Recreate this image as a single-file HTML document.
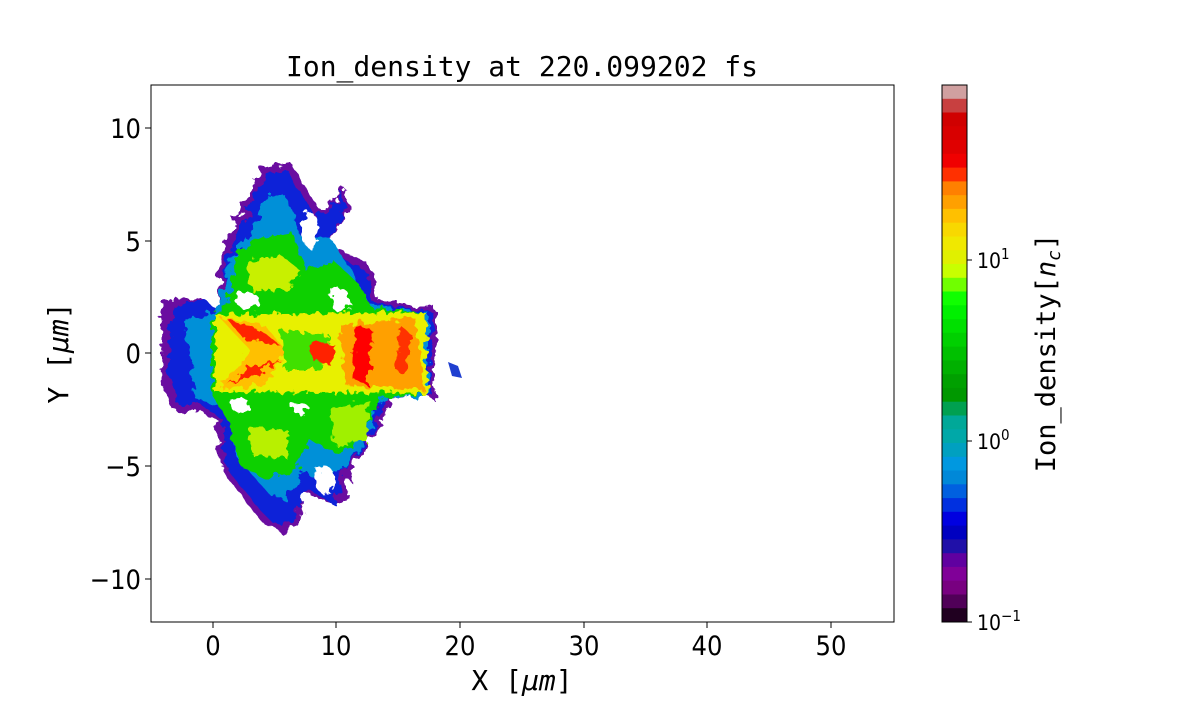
<!DOCTYPE html>
<html><head><meta charset="utf-8"><style>
body{margin:0;background:#fff;}
svg text{font-family:"DejaVu Sans Condensed","DejaVu Sans","Liberation Sans",sans-serif;font-stretch:condensed;}
svg text.mono{font-family:"DejaVu Sans Mono","Liberation Mono",monospace;font-stretch:normal;}
</style></head><body>
<svg width="1200" height="700" viewBox="0 0 1200 700" xmlns="http://www.w3.org/2000/svg">
<defs>
<filter id="rough" x="-20%" y="-20%" width="140%" height="140%">
<feTurbulence type="fractalNoise" baseFrequency="0.09" numOctaves="3" seed="3" result="n"/>
<feDisplacementMap in="SourceGraphic" in2="n" scale="16"/>
</filter>
<filter id="rough2" x="-20%" y="-20%" width="140%" height="140%">
<feTurbulence type="fractalNoise" baseFrequency="0.14" numOctaves="2" seed="7" result="n"/>
<feDisplacementMap in="SourceGraphic" in2="n" scale="12"/>
</filter>
<clipPath id="ax"><rect x="151" y="85" width="743" height="537"/></clipPath>
</defs>
<text x="522" y="76" font-size="28" text-anchor="middle" class="mono">Ion_density at 220.099202 fs</text>
<g clip-path="url(#ax)">
<g filter="url(#rough)">
<path d="M163,300 L200,297 L218,310 L222,250 L245,200 L262,168 L290,162 L300,178 L320,210 L345,188 L348,208 L330,245 L370,265 L378,300 L420,305 L437,308 L434,400 L420,395 L390,400 L372,440 L350,470 L345,505 L305,495 L298,525 L280,532 L260,520 L222,470 L218,420 L200,410 L175,412 L160,380 Z" fill="#6a10a0"/>
</g>
<g filter="url(#rough)">
<path d="M172,305 L205,300 L220,312 L228,255 L250,205 L266,175 L288,170 L298,190 L318,220 L342,192 L344,212 L326,250 L365,270 L375,305 L425,310 L433,312 L430,398 L410,393 L385,398 L368,440 L342,470 L336,505 L310,490 L292,520 L275,525 L260,510 L226,468 L222,418 L200,405 L178,405 L168,375 Z" fill="#0a20d8"/>
<path d="M185,318 L215,312 L232,262 L255,220 L270,195 L285,195 L300,235 L332,240 L360,285 L372,308 L428,312 L428,395 L380,400 L360,445 L335,478 L300,475 L285,500 L270,495 L235,455 L228,410 L195,398 Z" fill="#0090d8"/>
</g>
<g filter="url(#rough2)">
<path d="M228,300 L238,250 L262,238 L292,232 L305,270 L335,262 L360,285 L372,308 L425,312 L425,393 L380,398 L362,435 L340,455 L310,440 L295,470 L265,480 L240,465 L228,420 L212,395 L212,320 Z" fill="#10d000"/>
<path d="M245,262 L280,255 L300,270 L290,290 L252,292 Z" fill="#c8f000"/>
<path d="M248,425 L290,432 L286,458 L252,455 Z" fill="#b8f000"/>
<path d="M330,410 L370,400 L365,440 L335,445 Z" fill="#a0f000"/>
</g>
<!-- white holes -->
<g fill="#fff" filter="url(#rough2)">
<ellipse cx="247" cy="300" rx="12" ry="8"/>
<ellipse cx="340" cy="300" rx="10" ry="12"/>
<ellipse cx="310" cy="230" rx="8" ry="18"/>
<ellipse cx="240" cy="405" rx="10" ry="7"/>
<ellipse cx="300" cy="408" rx="8" ry="6"/>
<ellipse cx="325" cy="480" rx="10" ry="14"/>
</g>
<g filter="url(#rough2)">
<path d="M215,315 L425,312 L428,393 L215,392 Z" fill="#e8f000"/>
<path d="M220,318 L265,325 L285,350 L265,385 L220,388 L250,350 Z" fill="#ffc000"/>
<path d="M228,320 L260,330 L280,345 L245,340 Z" fill="#ff2000"/>
<path d="M228,385 L260,372 L280,360 L250,368 Z" fill="#ff2000"/>
<path d="M280,330 L330,335 L320,370 L285,370 Z" fill="#40e000"/>
<path d="M340,325 L415,318 L425,390 L345,385 Z" fill="#ffa000"/>
<path d="M355,325 L372,330 L368,385 L352,378 Z" fill="#ff0000"/>
<path d="M310,340 L335,345 L330,365 L312,360 Z" fill="#ff2000"/>
<path d="M400,325 L412,335 L405,375 L396,370 Z" fill="#ff3000"/>
</g>
<path d="M448,362 L458,366 L462,378 L452,376 Z" fill="#2040d0"/>
</g>
<rect x="151" y="85" width="743" height="537" fill="none" stroke="#000" stroke-width="1"/>
<g stroke="#000" stroke-width="1">
<line x1="213" y1="622" x2="213" y2="628"/><line x1="336" y1="622" x2="336" y2="628"/><line x1="460" y1="622" x2="460" y2="628"/><line x1="584" y1="622" x2="584" y2="628"/><line x1="707" y1="622" x2="707" y2="628"/><line x1="831" y1="622" x2="831" y2="628"/>
<line x1="145" y1="128" x2="151" y2="128"/><line x1="145" y1="241" x2="151" y2="241"/><line x1="145" y1="353" x2="151" y2="353"/><line x1="145" y1="466" x2="151" y2="466"/><line x1="145" y1="579" x2="151" y2="579"/>
</g>
<g font-size="27" text-anchor="middle">
<text x="213" y="655">0</text><text x="336" y="655">10</text><text x="460" y="655">20</text><text x="584" y="655">30</text><text x="707" y="655">40</text><text x="831" y="655">50</text>
</g>
<g font-size="27" text-anchor="end">
<text x="141" y="138">10</text><text x="141" y="251">5</text><text x="141" y="363">0</text><text x="141" y="476">−5</text><text x="141" y="589">−10</text>
</g>
<text x="522" y="690" font-size="28" text-anchor="middle" class="mono">X [<tspan font-style="italic">μm</tspan>]</text>
<text transform="translate(68,353) rotate(-90)" font-size="28" text-anchor="middle" class="mono">Y [<tspan font-style="italic">μm</tspan>]</text>
<g>
<rect x="942" y="85.0" width="25" height="14.4" fill="#d0a0a0"/>
<rect x="942" y="98.8" width="25" height="14.4" fill="#c84040"/>
<rect x="942" y="112.5" width="25" height="14.4" fill="#d00000"/>
<rect x="942" y="126.3" width="25" height="14.4" fill="#d80000"/>
<rect x="942" y="140.1" width="25" height="14.4" fill="#e00000"/>
<rect x="942" y="153.8" width="25" height="14.4" fill="#f00000"/>
<rect x="942" y="167.6" width="25" height="14.4" fill="#ff3000"/>
<rect x="942" y="181.4" width="25" height="14.4" fill="#ff8000"/>
<rect x="942" y="195.2" width="25" height="14.4" fill="#ffa000"/>
<rect x="942" y="208.9" width="25" height="14.4" fill="#ffc000"/>
<rect x="942" y="222.7" width="25" height="14.4" fill="#f8d800"/>
<rect x="942" y="236.5" width="25" height="14.4" fill="#f0e800"/>
<rect x="942" y="250.2" width="25" height="14.4" fill="#e0f000"/>
<rect x="942" y="264.0" width="25" height="14.4" fill="#c8ff00"/>
<rect x="942" y="277.8" width="25" height="14.4" fill="#70ff00"/>
<rect x="942" y="291.5" width="25" height="14.4" fill="#10ff00"/>
<rect x="942" y="305.3" width="25" height="14.4" fill="#00f000"/>
<rect x="942" y="319.1" width="25" height="14.4" fill="#00e000"/>
<rect x="942" y="332.8" width="25" height="14.4" fill="#00d000"/>
<rect x="942" y="346.6" width="25" height="14.4" fill="#00c000"/>
<rect x="942" y="360.4" width="25" height="14.4" fill="#00b000"/>
<rect x="942" y="374.2" width="25" height="14.4" fill="#00a000"/>
<rect x="942" y="387.9" width="25" height="14.4" fill="#009800"/>
<rect x="942" y="401.7" width="25" height="14.4" fill="#00a050"/>
<rect x="942" y="415.5" width="25" height="14.4" fill="#00a898"/>
<rect x="942" y="429.2" width="25" height="14.4" fill="#00a8a8"/>
<rect x="942" y="443.0" width="25" height="14.4" fill="#00a0c0"/>
<rect x="942" y="456.8" width="25" height="14.4" fill="#0098e0"/>
<rect x="942" y="470.5" width="25" height="14.4" fill="#0088d8"/>
<rect x="942" y="484.3" width="25" height="14.4" fill="#0060e0"/>
<rect x="942" y="498.1" width="25" height="14.4" fill="#0030e0"/>
<rect x="942" y="511.8" width="25" height="14.4" fill="#0000e0"/>
<rect x="942" y="525.6" width="25" height="14.4" fill="#0000c0"/>
<rect x="942" y="539.4" width="25" height="14.4" fill="#2010a8"/>
<rect x="942" y="553.2" width="25" height="14.4" fill="#6000a0"/>
<rect x="942" y="566.9" width="25" height="14.4" fill="#800098"/>
<rect x="942" y="580.7" width="25" height="14.4" fill="#780080"/>
<rect x="942" y="594.5" width="25" height="14.4" fill="#500058"/>
<rect x="942" y="608.2" width="25" height="13.8" fill="#200020"/>
</g>
<rect x="942" y="85" width="25" height="537" fill="none" stroke="#000" stroke-width="1"/>
<g stroke="#000"><line x1="967" y1="260" x2="972" y2="260"/><line x1="967" y1="441" x2="972" y2="441"/><line x1="967" y1="622" x2="972" y2="622"/></g>
<g font-size="21">
<text x="977" y="268">10<tspan font-size="15" dy="-9">1</tspan></text>
<text x="977" y="449">10<tspan font-size="15" dy="-9">0</tspan></text>
<text x="977" y="630">10<tspan font-size="15" dy="-9">−1</tspan></text>
</g>
<text transform="translate(1055,353) rotate(-90)" font-size="27" text-anchor="middle" class="mono">Ion_density[<tspan font-style="italic">n</tspan><tspan font-style="italic" font-size="18" dy="5">c</tspan><tspan dy="-5">]</tspan></text>
</svg>
</body></html>
